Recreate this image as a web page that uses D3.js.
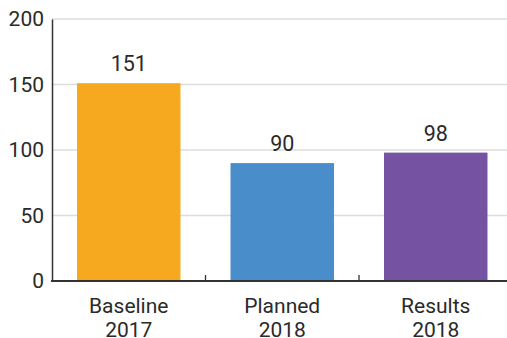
<!DOCTYPE html>
<html><head><meta charset="utf-8">
<script src="https://cdn.jsdelivr.net/npm/d3@7"></script>
<style>body{margin:0;background:#fff;} svg{display:block;font-family:Roboto, "Noto Sans", sans-serif;}</style>
</head><body>
<script>
const categories = [["Baseline","2017"],["Planned","2018"],["Results","2018"]];
const values = [151, 90, 98];
const colors = ["#F6A81E", "#4A8DCB", "#7552A2"];
const yTicks = [0, 50, 100, 150, 200];

(function() {
const W = 507, H = 338;
const mLeft = 52, mRight = 512.5, mTop = 19, mBottom = 281;
const svg = d3.select("body").append("svg").attr("width", W).attr("height", H);

const keys = categories.map(c => c.join(" "));
const x = d3.scaleBand().domain(keys).range([mLeft, mRight]).paddingInner(0.326).paddingOuter(0.163);
const y = d3.scaleLinear().domain([0, 200]).range([mBottom, mTop]);

// gridlines
svg.append("g").selectAll("line").data(yTicks.filter(d => d > 0)).join("line")
  .attr("x1", mLeft).attr("x2", W).attr("y1", d => y(d)).attr("y2", d => y(d))
  .attr("stroke", "#dcdcdc").attr("stroke-width", 1.3);

// bars
svg.append("g").selectAll("rect").data(values).join("rect")
  .attr("x", (d, i) => x(keys[i])).attr("width", x.bandwidth())
  .attr("y", d => y(d)).attr("height", d => y(0) - y(d))
  .attr("fill", (d, i) => colors[i]);

// value labels
svg.append("g").selectAll("text").data(values).join("text")
  .attr("x", (d, i) => x(keys[i]) + x.bandwidth() / 2)
  .attr("y", d => y(d) - 12)
  .attr("text-anchor", "middle").attr("font-size", 21.5).attr("fill", "#2a2a2a")
  .text(d => d);

// y axis
const yAxis = svg.append("g").attr("transform", `translate(${mLeft},0)`)
  .call(d3.axisLeft(y).tickValues(yTicks).tickSize(0).tickPadding(8));
yAxis.select(".domain").attr("stroke", "#333").attr("stroke-width", 1.5);
yAxis.selectAll("text").attr("font-size", 21).attr("fill", "#2a2a2a").attr("font-family", "Roboto, sans-serif");

// x axis baseline
svg.append("line").attr("x1", mLeft - 1).attr("x2", W).attr("y1", mBottom).attr("y2", mBottom)
  .attr("stroke", "#333").attr("stroke-width", 2);

// x ticks between bands (inward)
const step = x.step();
const boundaries = keys.slice(1).map(k => x(k) - step * x.paddingInner() / 2);
svg.append("g").selectAll("line").data(boundaries).join("line")
  .attr("x1", d => d).attr("x2", d => d).attr("y1", mBottom).attr("y2", mBottom - 6)
  .attr("stroke", "#333").attr("stroke-width", 1.3);

// x labels
const xl = svg.append("g").selectAll("text").data(categories).join("text")
  .attr("x", (d, i) => x(keys[i]) + x.bandwidth() / 2)
  .attr("y", 312.5)
  .attr("text-anchor", "middle").attr("font-size", 21).attr("fill", "#2a2a2a");
xl.each(function(d) {
  const t = d3.select(this);
  d.forEach((line, j) => t.append("tspan").attr("x", t.attr("x")).attr("dy", j === 0 ? 0 : 24.5).text(line));
});
})();
</script>
</body></html>
